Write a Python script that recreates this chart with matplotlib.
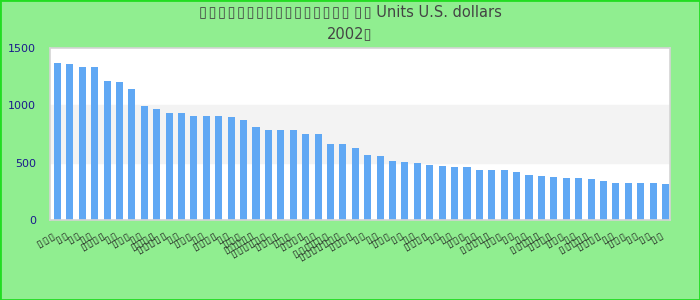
import matplotlib
matplotlib.use('Agg')
import matplotlib.pyplot as plt
from matplotlib.patches import Rectangle

B = '\u25af\u200a'

values = [1368, 1360, 1333, 1333, 1211, 1202, 1140, 991, 965, 930,
          930, 904, 904, 904, 895, 868, 807, 789, 781, 781,
          754, 746, 667, 667, 632, 570, 561, 518, 509, 500,
          482, 474, 465, 465, 439, 439, 439, 421, 395, 386,
          377, 368, 368, 360, 342, 325, 325, 325, 325, 316]

label_lens = [3, 2, 2, 2, 4, 2, 3, 2, 4, 5,
              2, 3, 2, 4, 2, 3, 5, 6, 4, 3,
              4, 2, 6, 7, 4, 2, 2, 3, 2, 2,
              4, 2, 2, 3, 2, 5, 3, 2, 2, 5,
              4, 3, 2, 5, 4, 2, 3, 2, 2, 2]
labels = [(B * n).strip('\u200a') for n in label_lens]

title = (B * 16).strip('\u200a') + ' ' + (B * 2).strip('\u200a') + ' Units U.S. dollars\n2002\u25af'

fig = plt.figure(figsize=(7, 3), dpi=100, facecolor='#90ee90')
fig.patches.append(Rectangle((0, 0), 1, 1, transform=fig.transFigure,
                             fill=False, edgecolor='#22dd22', linewidth=2))
ax = fig.add_axes([50 / 700, 80 / 300, 620 / 700, 172 / 300])
ax.set_facecolor('white')
ax.axhspan(500, 1000, color='#f3f3f3', zorder=0)

x = list(range(len(values)))
ax.bar(x, values, width=0.57, color='#60a8f4', zorder=2)

ax.set_xlim(-0.6, len(values) - 0.64)
ax.set_ylim(0, 1500)
ax.set_yticks([0, 500, 1000, 1500])
ax.tick_params(axis='y', length=0, labelsize=8, labelcolor='#1a1a8c', pad=10)
ax.set_xticks(x)
ax.set_xticklabels(labels, rotation=30, ha='right', rotation_mode='default',
                   fontsize=7.5, color='#222222')
ax.tick_params(axis='x', length=0, pad=8)
for s in ax.spines.values():
    s.set_color('#d4d4d4')
    s.set_linewidth(1.2)

fig.suptitle(title, y=0.985, fontsize=10.5, color='#444444', linespacing=1.55)

fig.savefig('out.png', dpi=100, facecolor=fig.get_facecolor())
